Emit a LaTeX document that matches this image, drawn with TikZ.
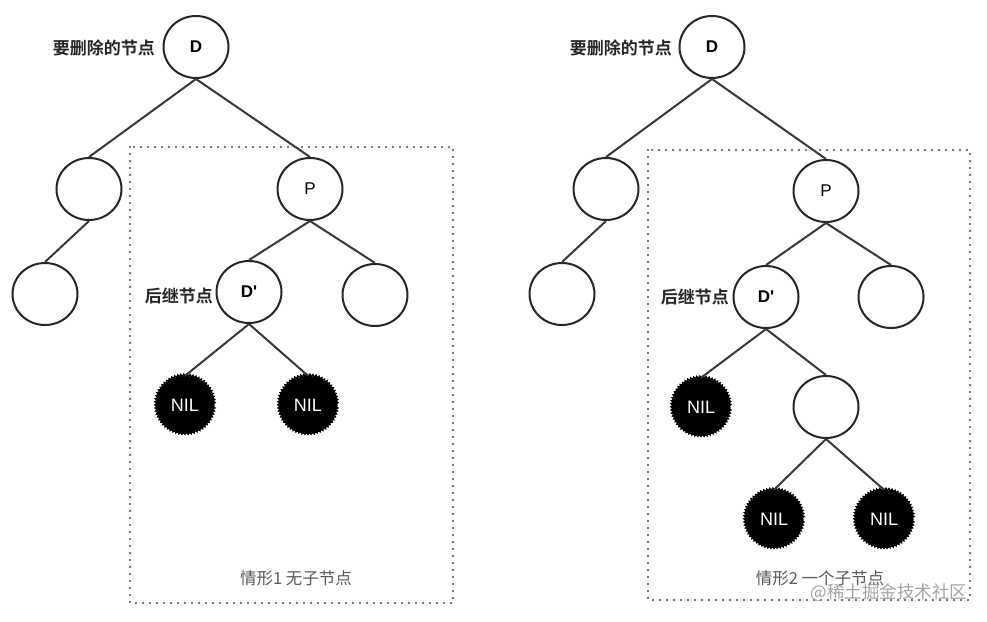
\documentclass[tikz,border=0pt]{standalone}
\usepackage{fontspec}
\setmainfont{Liberation Sans}[Ligatures=TeXOff]
\newfontfamily\cjk{Noto Sans CJK SC}
\newfontfamily\cjkb{Noto Sans CJK SC Bold}
\usetikzlibrary{decorations.pathmorphing,shapes.geometric}
\begin{document}
\begin{tikzpicture}[x=1pt,y=-1pt,
  tnode/.style={ellipse,draw=black!85,line width=2pt,minimum width=65pt,minimum height=62pt,inner sep=0pt,fill=white,font=\fontsize{17}{17}\selectfont},
  nilnode/.style={circle,fill=black,minimum size=58pt,inner sep=0pt,text=white,font=\fontsize{18}{18}\selectfont,
    postaction={draw=black,line width=1.4pt,decorate,decoration={snake,segment length=3pt,amplitude=1.1pt}}},
  edge/.style={draw=black!78,line width=2pt},
  box/.style={draw=black!70,line width=2.2pt,line cap=round,dash pattern=on 0pt off 7pt},
  lbl/.style={font=\cjkb\fontsize{17}{17}\selectfont,text=black!85,anchor=east,inner sep=0pt},
  caption/.style={font=\cjk\fontsize{16.5}{16.5}\selectfont,text=black!65,inner sep=0pt}]
\useasboundingbox[fill=white] (0,0) rectangle (987,621);
% ---- left case ----
\draw[box] (130,147) rectangle (453,603);
\node[tnode] (D1) at (196,47) {\textbf{D}};
\node[tnode] (L1) at (89,189) {};
\node[tnode] (LL1) at (45,294) {};
\node[tnode] (P1) at (310,189) {P};
\node[tnode] (Dp1) at (249,292) {\textbf{D'}};
\node[tnode] (R1) at (375,295) {};
\node[nilnode] (N11) at (185,405) {NIL};
\node[nilnode] (N12) at (308,405) {NIL};
\draw[edge] (D1.south) -- (L1.north);
\draw[edge] (D1.south) -- (P1.north);
\draw[edge] (L1.south) -- (LL1.north);
\draw[edge] (P1.south) -- (Dp1.north);
\draw[edge] (P1.south) -- (R1.north);
\draw[edge] (Dp1.south) -- (N11.north);
\draw[edge] (Dp1.south) -- (N12.north);
\node[lbl] (t11) at (155,48) {要删除的节点};
\node[lbl] (t12) at (213,296) {后继节点};
\node[caption] (c1) at (296,578) {情形1 无子节点};
% ---- right case ----
\draw[box] (648,150) rectangle (970,600);
\node[tnode] (D2) at (712,47) {\textbf{D}};
\node[tnode] (L2) at (606,189) {};
\node[tnode] (LL2) at (562,294) {};
\node[tnode] (P2) at (826,191) {P};
\node[tnode] (Dp2) at (766,297) {\textbf{D'}};
\node[tnode] (R2) at (891,297) {};
\node[nilnode] (N21) at (701,407) {NIL};
\node[tnode] (C2) at (826,407) {};
\node[nilnode] (N22) at (774,519) {NIL};
\node[nilnode] (N23) at (884,519) {NIL};
\draw[edge] (D2.south) -- (L2.north);
\draw[edge] (D2.south) -- (P2.north);
\draw[edge] (L2.south) -- (LL2.north);
\draw[edge] (P2.south) -- (Dp2.north);
\draw[edge] (P2.south) -- (R2.north);
\draw[edge] (Dp2.south) -- (N21.north);
\draw[edge] (Dp2.south) -- (C2.north);
\draw[edge] (C2.south) -- (N22.north);
\draw[edge] (C2.south) -- (N23.north);
\node[lbl] (t21) at (672,48) {要删除的节点};
\node[lbl] (t22) at (729,297) {后继节点};
\node[caption] (c2) at (820,578) {情形2 一个子节点};
\node[font=\cjk\fontsize{17.5}{17.5}\selectfont,text=black!45,opacity=0.8,inner sep=0pt] (wm) at (889,593) {@稀土掘金技术社区};
\end{tikzpicture}
\end{document}
